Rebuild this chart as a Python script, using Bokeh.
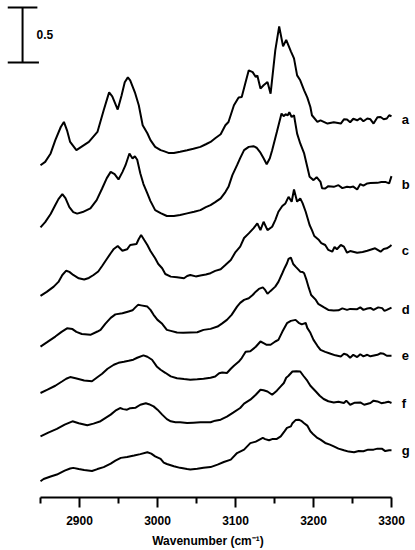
from bokeh.plotting import figure
from bokeh.models import FixedTicker, Range1d
from bokeh.core.properties import value
from bokeh.embed import file_html
from bokeh.resources import INLINE

# ---------------- data ----------------
labels = ["a", "b", "c", "d", "e", "f", "g"]
offsets = [3.44, 2.85, 2.25, 1.71, 1.29, 0.86, 0.43]

wn_a = [2850, 2856, 2863, 2869, 2876, 2880, 2884, 2888, 2896, 2912, 2923, 2931, 2936, 2938, 2942, 2949,
        2954, 2958, 2962, 2965, 2971, 2976, 2981, 2987, 2991, 2997, 3004, 3008, 3014, 3021, 3029, 3038,
        3046, 3055, 3062, 3068, 3074, 3081, 3087, 3091, 3098, 3104, 3108, 3113, 3117, 3122, 3126, 3128,
        3132, 3136, 3141, 3145, 3151, 3156, 3161, 3165, 3171, 3175, 3179, 3183, 3188, 3192, 3196, 3198,
        3205, 3209, 3218, 3226, 3235, 3239, 3243, 3247, 3251, 3256, 3260, 3264, 3269, 3273, 3277, 3282,
        3286, 3290, 3294, 3297, 3300]
abs_a = [-0.413, -0.383, -0.306, -0.185, -0.065, -0.019, -0.095, -0.201, -0.276, -0.201, -0.110, 0.087,
         0.205, 0.251, 0.215, 0.094, 0.224, 0.342, 0.387, 0.360, 0.251, 0.133, -0.049, -0.122, -0.185,
         -0.246, -0.276, -0.285, -0.301, -0.301, -0.290, -0.276, -0.263, -0.246, -0.222, -0.201, -0.167,
         -0.131, -0.049, -0.019, 0.133, 0.203, 0.208, 0.345, 0.451, 0.435, 0.390, 0.405, 0.285, 0.315,
         0.345, 0.239, 0.633, 0.851, 0.669, 0.728, 0.624, 0.560, 0.405, 0.360, 0.269, 0.205, 0.117, 0.042,
         -0.019, -0.004, -0.034, -0.022, -0.034, 0.005, 0.003, -0.022, 0.010, -0.004, 0.015, -0.013, 0.012,
         0.005, -0.034, 0.024, 0.026, 0.005, 0.012, 0.042, 0.033]

wn_b = [2850, 2856, 2863, 2869, 2873, 2878, 2882, 2887, 2892, 2897, 2904, 2914, 2922, 2929, 2935, 2940,
        2945, 2950, 2955, 2959, 2964, 2968, 2971, 2974, 2978, 2982, 2987, 2991, 2997, 3004, 3012, 3021,
        3029, 3038, 3047, 3055, 3062, 3068, 3074, 3081, 3087, 3091, 3096, 3102, 3106, 3111, 3117, 3123,
        3127, 3132, 3136, 3140, 3144, 3147, 3153, 3159, 3162, 3164, 3167, 3169, 3172, 3175, 3179, 3183,
        3188, 3192, 3195, 3200, 3204, 3209, 3211, 3215, 3219, 3226, 3232, 3237, 3243, 3247, 3251, 3256,
        3260, 3264, 3269, 3273, 3282, 3287, 3292, 3297, 3300]
abs_b = [-0.389, -0.341, -0.268, -0.186, -0.132, -0.086, -0.123, -0.205, -0.250, -0.264, -0.250, -0.216,
         -0.141, -0.035, 0.059, 0.116, 0.095, 0.047, 0.114, 0.177, 0.284, 0.238, 0.259, 0.227, 0.102,
         0.005, -0.080, -0.150, -0.232, -0.259, -0.286, -0.286, -0.277, -0.262, -0.247, -0.232, -0.205,
         -0.186, -0.159, -0.125, -0.068, -0.020, 0.086, 0.177, 0.241, 0.314, 0.344, 0.350, 0.336, 0.291,
         0.241, 0.186, 0.241, 0.314, 0.480, 0.647, 0.623, 0.641, 0.632, 0.659, 0.616, 0.632, 0.465, 0.375,
         0.284, 0.162, 0.071, 0.041, 0.068, 0.025, -0.032, -0.035, -0.014, -0.020, -0.005, -0.032, -0.020,
         -0.023, -0.018, -0.044, 0.005, -0.009, 0.011, 0.014, 0.016, 0.023, 0.025, 0.011, 0.077]

wn_c = [2850, 2858, 2867, 2873, 2878, 2883, 2887, 2892, 2899, 2906, 2912, 2918, 2924, 2929, 2935, 2940,
        2944, 2949, 2955, 2961, 2965, 2969, 2973, 2976, 2979, 2983, 2987, 2991, 2997, 3001, 3006, 3010,
        3017, 3025, 3034, 3038, 3042, 3049, 3055, 3062, 3068, 3074, 3081, 3087, 3094, 3100, 3106, 3111,
        3117, 3123, 3128, 3132, 3136, 3141, 3147, 3151, 3155, 3160, 3164, 3168, 3172, 3175, 3179, 3183,
        3186, 3190, 3195, 3198, 3201, 3207, 3210, 3215, 3219, 3224, 3227, 3230, 3235, 3239, 3243, 3247,
        3256, 3263, 3269, 3274, 3279, 3286, 3290, 3294, 3297, 3300]
abs_c = [-0.414, -0.377, -0.329, -0.286, -0.223, -0.184, -0.195, -0.223, -0.253, -0.264, -0.250, -0.223,
         -0.191, -0.141, -0.077, -0.025, 0.014, 0.041, -0.002, 0.011, 0.050, 0.055, 0.059, 0.105, 0.141,
         0.095, 0.050, -0.005, -0.071, -0.123, -0.162, -0.214, -0.238, -0.244, -0.253, -0.232, -0.223,
         -0.236, -0.227, -0.218, -0.207, -0.186, -0.171, -0.132, -0.086, -0.014, 0.035, 0.114, 0.156,
         0.202, 0.247, 0.186, 0.262, 0.186, 0.216, 0.277, 0.353, 0.405, 0.429, 0.489, 0.444, 0.556, 0.445,
         0.475, 0.432, 0.353, 0.232, 0.186, 0.132, 0.095, 0.068, 0.050, 0.005, -0.011, 0.032, 0.011, 0.050,
         0.035, -0.020, -0.005, -0.020, -0.014, -0.002, 0.009, 0.020, -0.011, 0.014, 0.020, 0.032, 0.050]

wn_d = [2850, 2859, 2869, 2877, 2884, 2891, 2896, 2903, 2914, 2923, 2927, 2933, 2940, 2946, 2955, 2963,
        2968, 2971, 2975, 2979, 2987, 2991, 2995, 3000, 3006, 3012, 3017, 3025, 3033, 3042, 3051, 3059,
        3068, 3077, 3083, 3089, 3095, 3102, 3106, 3111, 3117, 3122, 3126, 3130, 3135, 3138, 3141, 3145,
        3151, 3155, 3160, 3163, 3166, 3168, 3171, 3174, 3177, 3181, 3183, 3186, 3188, 3191, 3194, 3197,
        3203, 3206, 3213, 3219, 3226, 3232, 3237, 3243, 3247, 3256, 3260, 3264, 3269, 3273, 3277, 3283,
        3288, 3291, 3294, 3300]
abs_d = [-0.335, -0.292, -0.244, -0.201, -0.169, -0.176, -0.201, -0.221, -0.228, -0.198, -0.183, -0.128,
         -0.074, -0.042, -0.031, -0.015, -0.005, 0.017, 0.045, 0.040, 0.029, -0.001, -0.046, -0.092,
         -0.128, -0.183, -0.192, -0.207, -0.210, -0.207, -0.205, -0.183, -0.174, -0.153, -0.124, -0.092,
         -0.046, 0.029, 0.063, 0.090, 0.105, 0.135, 0.165, 0.190, 0.204, 0.181, 0.145, 0.172, 0.211, 0.254,
         0.333, 0.381, 0.424, 0.463, 0.475, 0.417, 0.393, 0.363, 0.347, 0.345, 0.333, 0.272, 0.199, 0.135,
         0.090, 0.054, 0.024, -0.001, -0.007, -0.005, 0.013, -0.001, 0.008, 0.005, 0.022, -0.001, 0.011,
         0.017, -0.001, 0.022, 0.015, -0.010, -0.001, 0.020]

wn_e = [2850, 2859, 2869, 2878, 2883, 2888, 2895, 2906, 2916, 2922, 2929, 2936, 2944, 2950, 2957, 2963,
        2969, 2974, 2982, 2987, 2993, 2999, 3004, 3010, 3017, 3025, 3034, 3042, 3051, 3059, 3068, 3074,
        3079, 3083, 3089, 3094, 3098, 3104, 3108, 3113, 3119, 3126, 3132, 3136, 3140, 3145, 3151, 3155,
        3160, 3166, 3171, 3177, 3181, 3185, 3190, 3192, 3196, 3200, 3205, 3209, 3215, 3222, 3228, 3235,
        3239, 3243, 3247, 3251, 3256, 3260, 3264, 3269, 3273, 3282, 3286, 3290, 3294, 3300]
abs_e = [-0.338, -0.308, -0.272, -0.231, -0.208, -0.193, -0.204, -0.224, -0.231, -0.199, -0.163, -0.117,
         -0.081, -0.063, -0.054, -0.045, -0.035, -0.017, 0.005, -0.008, -0.035, -0.096, -0.126, -0.154,
         -0.187, -0.204, -0.211, -0.217, -0.213, -0.208, -0.199, -0.187, -0.158, -0.151, -0.156, -0.117,
         -0.090, -0.054, -0.020, 0.037, 0.042, 0.083, 0.131, 0.116, 0.101, 0.101, 0.131, 0.146, 0.219,
         0.298, 0.319, 0.328, 0.301, 0.287, 0.301, 0.255, 0.210, 0.146, 0.092, 0.055, 0.037, 0.019, 0.005,
         -0.005, 0.019, 0.010, -0.017, 0.010, -0.011, 0.015, -0.004, 0.010, -0.004, 0.010, 0.024, 0.019,
         0.001, 0.001]

wn_f = [2850, 2860, 2871, 2881, 2891, 2899, 2910, 2918, 2927, 2933, 2940, 2946, 2952, 2956, 2961, 2965,
        2972, 2978, 2985, 2989, 2995, 3000, 3006, 3012, 3017, 3023, 3029, 3038, 3046, 3055, 3062, 3068,
        3074, 3081, 3089, 3097, 3106, 3111, 3119, 3126, 3132, 3136, 3141, 3147, 3153, 3158, 3162, 3165,
        3168, 3173, 3178, 3183, 3187, 3192, 3196, 3203, 3208, 3213, 3219, 3226, 3232, 3239, 3242, 3247,
        3253, 3260, 3265, 3273, 3277, 3282, 3287, 3292, 3296, 3300]
abs_f = [-0.303, -0.269, -0.235, -0.196, -0.166, -0.183, -0.201, -0.187, -0.165, -0.137, -0.105, -0.069,
         -0.045, -0.055, -0.060, -0.046, -0.042, -0.015, -0.001, -0.010, -0.030, -0.060, -0.105, -0.146,
         -0.166, -0.174, -0.175, -0.181, -0.178, -0.175, -0.174, -0.175, -0.160, -0.151, -0.124, -0.087,
         -0.045, -0.005, 0.031, 0.076, 0.122, 0.117, 0.106, 0.076, 0.113, 0.152, 0.183, 0.231, 0.249,
         0.288, 0.290, 0.288, 0.249, 0.204, 0.158, 0.106, 0.067, 0.037, 0.017, 0.006, 0.013, 0.001, 0.022,
         -0.015, 0.004, 0.006, -0.015, 0.001, 0.022, 0.015, -0.001, 0.006, 0.013, 0.001]

wn_g = [2850, 2854, 2863, 2871, 2881, 2888, 2892, 2899, 2906, 2916, 2923, 2931, 2940, 2946, 2953, 2961,
        2970, 2978, 2987, 2992, 2997, 3004, 3008, 3012, 3021, 3029, 3038, 3042, 3051, 3059, 3068, 3077,
        3085, 3094, 3102, 3111, 3119, 3126, 3135, 3138, 3143, 3147, 3153, 3158, 3163, 3166, 3171, 3173,
        3177, 3181, 3185, 3188, 3192, 3196, 3200, 3205, 3209, 3215, 3221, 3226, 3232, 3239, 3245, 3252,
        3258, 3264, 3270, 3277, 3282, 3288, 3292, 3297, 3300]
abs_g = [-0.282, -0.262, -0.239, -0.221, -0.185, -0.166, -0.160, -0.171, -0.180, -0.189, -0.171, -0.153,
         -0.121, -0.094, -0.069, -0.062, -0.048, -0.035, -0.018, -0.030, -0.055, -0.078, -0.112, -0.125,
         -0.145, -0.160, -0.171, -0.175, -0.169, -0.160, -0.153, -0.130, -0.107, -0.085, -0.025, 0.006,
         0.065, 0.079, 0.113, 0.102, 0.091, 0.102, 0.104, 0.127, 0.175, 0.204, 0.218, 0.247, 0.275, 0.279,
         0.265, 0.247, 0.225, 0.173, 0.143, 0.113, 0.097, 0.067, 0.052, 0.036, 0.015, 0.000, -0.012,
         -0.018, -0.007, -0.009, 0.006, 0.006, 0.015, 0.013, -0.007, 0.000, 0.000]

spectra_wn = [wn_a, wn_b, wn_c, wn_d, wn_e, wn_f, wn_g]
spectra_abs = [abs_a, abs_b, abs_c, abs_d, abs_e, abs_f, abs_g]

major_ticks = [2900, 3000, 3100, 3200, 3300]
minor_ticks = [2850, 2950, 3050, 3150, 3250]
axis_bounds = (2850, 3300)
scale_bar = 0.5
x_title = "Wavenumber (cm\u207b\u00b9)"

# ---------------- layout ----------------
PX_PER_WN = 0.78      # horizontal pixels per cm-1
PX_PER_ABS = 110.0    # vertical pixels per absorbance unit
FIG_W, FIG_H = 415, 550
FRAME_H = 498
LEFT_PAD = 40         # pixels between frame left edge and 2850

x0 = axis_bounds[0] - LEFT_PAD / PX_PER_WN
x1 = x0 + FIG_W / PX_PER_WN
y1 = FRAME_H / PX_PER_ABS

FONT = value("Liberation Sans")

p = figure(width=FIG_W, height=FIG_H,
           x_range=Range1d(x0, x1), y_range=Range1d(0, y1),
           output_backend="svg", toolbar_location=None,
           y_axis_location=None,
           min_border_left=0, min_border_right=0, min_border_top=0,
           min_border_bottom=FIG_H - FRAME_H)
p.outline_line_color = None
p.grid.visible = False
p.background_fill_color = "white"
p.border_fill_color = "white"

ax = p.xaxis[0]
ax.ticker = FixedTicker(ticks=major_ticks, minor_ticks=minor_ticks)
ax.bounds = axis_bounds
ax.axis_line_width = 2
ax.axis_line_color = "black"
ax.major_tick_line_width = 2
ax.minor_tick_line_width = 2
ax.major_tick_line_color = "black"
ax.minor_tick_line_color = "black"
ax.major_tick_in = 0
ax.major_tick_out = 10
ax.minor_tick_in = 0
ax.minor_tick_out = 6
ax.major_label_text_font = "Liberation Sans"
ax.major_label_text_font_style = "bold"
ax.major_label_text_font_size = "12px"
ax.major_label_text_color = "black"
ax.major_label_standoff = 8
ax.axis_label = x_title
ax.axis_label_text_font = "Liberation Sans"
ax.axis_label_text_font_style = "bold"
ax.axis_label_text_font_size = "12px"
ax.axis_label_text_color = "black"
ax.axis_label_standoff = 6

for wn, ab, off in zip(spectra_wn, spectra_abs, offsets):
    p.line(wn, [v + off for v in ab], line_color="black", line_width=2)

# curve letters
p.text(x=[axis_bounds[1] + 13] * len(labels), y=offsets, text=labels,
       text_font=FONT, text_font_style="bold", text_font_size="13px",
       text_baseline="middle", text_align="left", text_color="black")

# scale bar
bar_x = axis_bounds[0] - 23
bar_top = y1 - 7 / PX_PER_ABS
bar_bot = bar_top - scale_bar
p.segment(x0=[bar_x], y0=[bar_bot], x1=[bar_x], y1=[bar_top], line_color="black", line_width=2)
p.segment(x0=[bar_x - 19, bar_x - 19], y0=[bar_top, bar_bot],
          x1=[bar_x + 19, bar_x + 21], y1=[bar_top, bar_bot], line_color="black", line_width=2)
p.text(x=[axis_bounds[0] - 5], y=[bar_top - scale_bar / 2], text=[str(scale_bar)],
       text_font=FONT, text_font_style="bold", text_font_size="12px",
       text_baseline="middle", text_align="left", text_color="black")

open("out.html", "w").write(file_html(p, INLINE))
